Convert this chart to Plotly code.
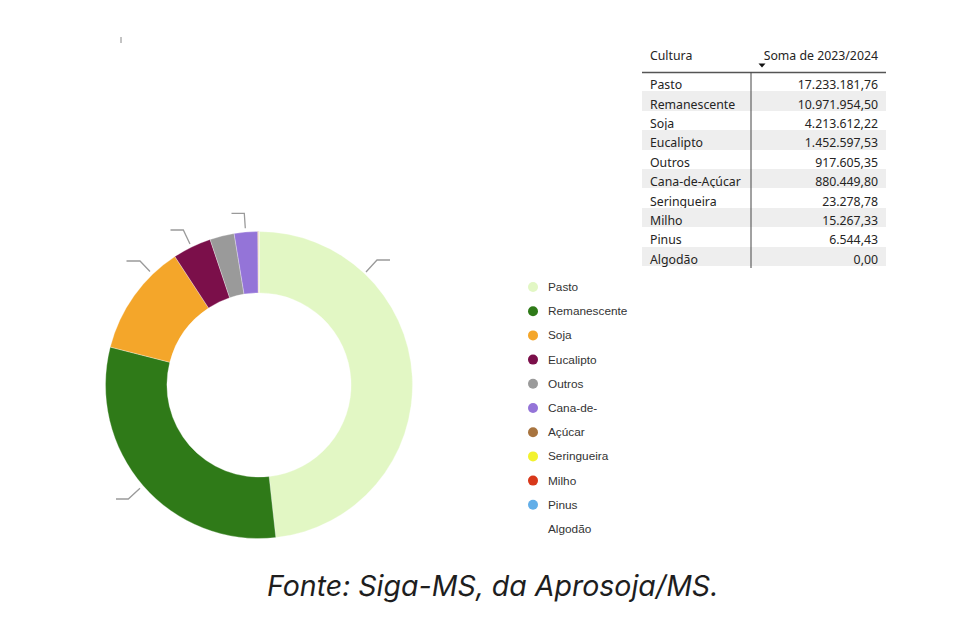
import plotly.graph_objects as go

W, H = 980, 624
OFF = 8  # page body margin offset

# ---- data ----
culturas = ["Pasto", "Remanescente", "Soja", "Eucalipto", "Outros", "Cana-de-Açúcar",
            "Seringueira", "Milho", "Pinus", "Algodão"]
valores = [17233181.76, 10971954.50, 4213612.22, 1452597.53, 917605.35, 880449.80,
           23278.78, 15267.33, 6544.43, 0.00]
cores = ["#e2f7c4", "#2f7a18", "#f4a62a", "#7b0f4a", "#9a9a9a", "#9474d8",
         "#a8743f", "#f2f22e", "#d8381a", "#62aee8"]
legenda_rotulos = ["Pasto", "Remanescente", "Soja", "Eucalipto", "Outros", "Cana-de-",
                   "Açúcar", "Seringueira", "Milho", "Pinus", "Algodão"]
cabecalho = ["Cultura", "Soma de 2023/2024"]
fonte_texto = "Fonte: Siga-MS, da Aprosoja/MS."


def br(v):
    return f"{v:,.2f}".replace(",", "X").replace(".", ",").replace("X", ".")


def px(x, y):
    return (x - OFF) / W, 1 - (y - OFF) / H


valores_fmt = [br(v) for v in valores]
faixas = ["#ffffff" if i % 2 == 0 else "#eeeeee" for i in range(len(culturas))]

fig = go.Figure()

# donut
cx, cy, r = 259, 385, 153.5
dx0, dy0 = px(cx - r, cy + r)
dx1, dy1 = px(cx + r, cy - r)
fig.add_trace(go.Pie(
    labels=culturas, values=valores, hole=0.6, sort=False, direction="clockwise",
    rotation=0, marker=dict(colors=cores, line=dict(color="rgba(255,255,255,0.6)", width=0.5)),
    textinfo="none", hoverinfo="label+value+percent", showlegend=False,
    domain=dict(x=[dx0, dx1], y=[dy0, dy1]),
))

# table
tx0, ty0 = px(642, 272)
tx1, ty1 = px(886, 43)
fig.add_trace(go.Table(
    domain=dict(x=[tx0, tx1], y=[ty0, ty1]),
    columnwidth=[109, 135],
    header=dict(values=cabecalho, align=["left", "right"], fill_color="white",
                line=dict(color="rgba(0,0,0,0)", width=0), height=29,
                font=dict(family="Noto Sans", size=12.3, color="#252423")),
    cells=dict(values=[culturas, valores_fmt], align=["left", "right"],
               fill_color=[faixas, faixas], line=dict(color="rgba(0,0,0,0)", width=0),
               height=19.4, font=dict(family="Noto Sans", size=12.3, color="#252423")),
))

shapes = []
annotations = []

# table decorations: header underline, column divider, sort arrow
x0, y0 = px(642, 72.5)
x1, _ = px(886, 72.5)
shapes.append(dict(type="line", xref="paper", yref="paper", x0=x0, x1=x1, y0=y0, y1=y0,
                   line=dict(color="#555555", width=1.5)))
vx, vy0 = px(751, 72.5)
_, vy1 = px(751, 268)
shapes.append(dict(type="line", xref="paper", yref="paper", x0=vx, x1=vx, y0=vy0, y1=vy1,
                   line=dict(color="#444444", width=1)))
a1 = px(758.5, 63.5)
a2 = px(765.5, 63.5)
a3 = px(762, 67.5)
shapes.append(dict(type="path", xref="paper", yref="paper",
                   path=f"M {a1[0]} {a1[1]} L {a2[0]} {a2[1]} L {a3[0]} {a3[1]} Z",
                   fillcolor="#111111", line=dict(width=0)))

# leader lines (Power BI label connectors with hidden labels)
leaders = [
    [(366, 272), (377, 260), (390, 260)],
    [(150, 271.5), (140, 261), (126.5, 261)],
    [(190, 244), (183.3, 230), (170.5, 230)],
    [(245.3, 228.3), (244.3, 213.3), (231.5, 213.3)],
    [(140, 488.3), (128.3, 499), (116, 499)],
]
for pts in leaders:
    path = ""
    for i, (x, y) in enumerate(pts):
        X, Y = px(x, y)
        path += ("M" if i == 0 else " L") + f" {X} {Y}"
    shapes.append(dict(type="path", xref="paper", yref="paper", path=path,
                       line=dict(color="#9a9a9a", width=1.3)))

# small tick mark at top-left
kx, ky0 = px(121, 37)
_, ky1 = px(121, 43)
shapes.append(dict(type="line", xref="paper", yref="paper", x0=kx, x1=kx, y0=ky0, y1=ky1,
                   line=dict(color="#888888", width=1)))

# legend (custom, reproducing wrapped entries)
leg_x, leg_y, leg_step = 533, 287, 24.2
for i, lab in enumerate(legenda_rotulos):
    yy = leg_y + i * leg_step
    if i < len(cores):
        mx0, my0 = px(leg_x - 5, yy - 5)
        mx1, my1 = px(leg_x + 5, yy + 5)
        shapes.append(dict(type="circle", xref="paper", yref="paper", x0=mx0, x1=mx1,
                           y0=my1, y1=my0, fillcolor=cores[i], line=dict(width=0)))
    lx, ly = px(leg_x + 13, yy)
    annotations.append(dict(x=lx, y=ly, xref="paper", yref="paper", text=lab,
                            showarrow=False, xanchor="left", yanchor="middle",
                            font=dict(family="Liberation Sans", size=11.8, color="#333333")))

# caption
cx2, cy2 = px(492, 585)
annotations.append(dict(x=cx2, y=cy2, xref="paper", yref="paper",
                        text=f"<i>{fonte_texto}</i>", showarrow=False,
                        xanchor="center", yanchor="middle",
                        font=dict(family="Inter", size=28.5, color="#1e1e1e")))

fig.update_layout(
    width=W, height=H, margin=dict(l=0, r=0, t=0, b=0),
    paper_bgcolor="white", plot_bgcolor="white",
    shapes=shapes, annotations=annotations,
)

fig.write_html("out.html")
